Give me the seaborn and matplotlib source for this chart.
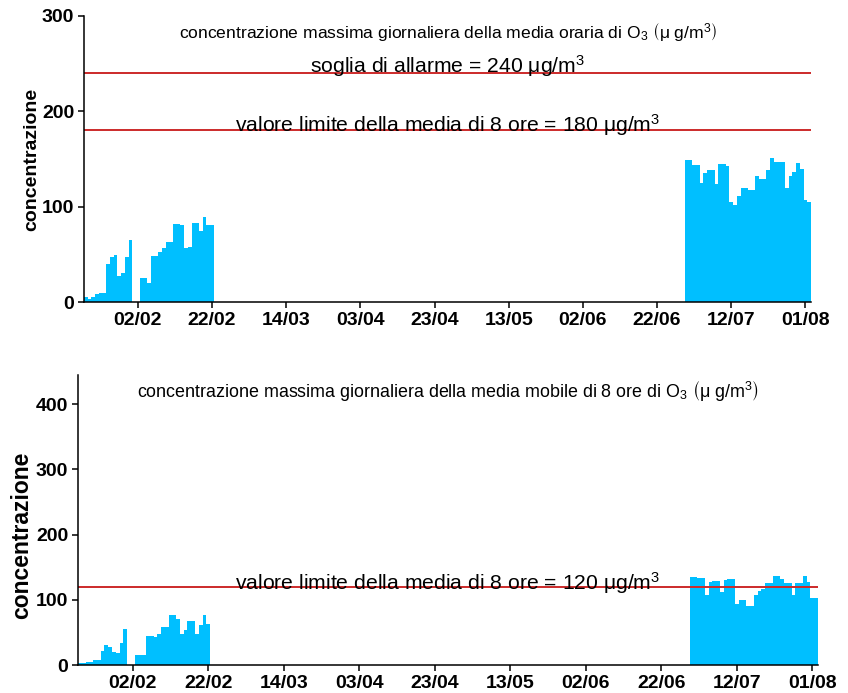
import numpy as np
import pandas as pd
import matplotlib
matplotlib.use("Agg")
import matplotlib.pyplot as plt
import seaborn as sns

# Daily ozone values (µg/m³); NaN marks days without data
days_winter = pd.date_range("2023-01-19", "2023-02-22")
days_summer = pd.date_range("2023-06-30", "2023-08-02")

max_hourly_winter = [5, 3, 5, 8, 9, 9, 40, 47, 49, 27, 30, 47, 65, np.nan, np.nan,
                     25, 25, 20, 48, 48, 52, 57, 63, 63, 82, 82, 81, 57, 58, 83,
                     83, 74, 89, 81, 81]
max_hourly_summer = [149, 149, 144, 144, 125, 135, 138, 138, 124, 145, 145, 143,
                     105, 102, 111, 120, 120, 118, 118, 132, 129, 129, 138, 151,
                     147, 147, 147, 120, 132, 136, 146, 139, 107, 105]

max_8h_winter = [3, 3, 4, 4, 7, 8, 22, 31, 28, 20, 19, 34, 56, np.nan, np.nan,
                 16, 16, 16, 44, 44, 43, 48, 59, 59, 76, 76, 71, 48, 53, 68,
                 68, 47, 62, 76, 63]
max_8h_summer = [135, 135, 134, 134, 108, 127, 129, 129, 112, 131, 132, 132,
                 94, 100, 99, 91, 91, 108, 114, 116, 126, 126, 137, 137,
                 132, 126, 126, 108, 126, 126, 136, 127, 103, 103]

tick_labels = ["02/02", "22/02", "14/03", "03/04", "23/04",
               "13/05", "02/06", "22/06", "12/07", "01/08"]

alarm_threshold = 240
limit_hourly = 180
limit_8h = 120

sns.set_theme(style="ticks")
plt.rcParams["font.family"] = ["Liberation Sans", "DejaVu Sans"]
plt.rcParams["mathtext.fontset"] = "stix"
for key in ("text.color", "axes.labelcolor", "xtick.color", "ytick.color",
            "axes.edgecolor"):
    plt.rcParams[key] = "black"

days = days_winter.append(days_summer)
df = pd.DataFrame({
    "doy": days.dayofyear,
    "hourly": max_hourly_winter + max_hourly_summer,
    "mov8": max_8h_winter + max_8h_summer,
})
tick_pos = [pd.Timestamp(f"2023-{t[3:]}-{t[:2]}").dayofyear for t in tick_labels]

BAR = "#00BFFF"
RED = "#CC2A2A"

fig = plt.figure(figsize=(8.48, 6.93), dpi=100)
ax1 = fig.add_axes([84 / 848, 1 - 302 / 693, (811 - 84) / 848, (302 - 16) / 693])
ax2 = fig.add_axes([78 / 848, 1 - 665 / 693, (818 - 78) / 848, (665 - 375) / 693])

for ax, col in ((ax1, "hourly"), (ax2, "mov8")):
    sns.barplot(data=df.dropna(subset=[col]), x="doy", y=col, native_scale=True,
                width=1, color=BAR, saturation=1, errorbar=None, linewidth=0,
                ax=ax)
    ax.set_xlim(18.5, 214.5)
    ax.set_xticks(tick_pos)
    ax.set_xticklabels(tick_labels)
    ax.set_xlabel("")
    for sp in ("top", "right"):
        ax.spines[sp].set_visible(False)
    for sp in ("left", "bottom"):
        ax.spines[sp].set_linewidth(1.1)
        ax.spines[sp].set_color("black")
    ax.tick_params(axis="both", length=4, width=1.1, color="black", pad=3,
                   labelsize=14, labelcolor="black")
    for lab in ax.get_xticklabels() + ax.get_yticklabels():
        lab.set_fontweight("bold")

ax1.set_ylabel("concentrazione", fontsize=14, fontweight="bold")
ax2.set_ylabel("concentrazione", fontsize=16.5, fontweight="bold")

ax1.set_ylim(0, 300)
ax1.set_yticks([0, 100, 200, 300])
ax1.yaxis.set_label_coords(-0.060, 0.5)
ax2.set_ylim(0, 445)
ax2.set_yticks([0, 100, 200, 300, 400])
ax2.yaxis.set_label_coords(-0.061, 0.448)

ax1.axhline(alarm_threshold, color=RED, lw=1.4)
ax1.axhline(limit_hourly, color=RED, lw=1.4)
ax2.axhline(limit_8h, color=RED, lw=1.4)

unit_title = r"$\left(\mathregular{μ\ g/m^3}\right)$"
ax1.text(0.5, 0.94,
         r"concentrazione massima giornaliera della media oraria di O$_\mathregular{3}$ " + unit_title,
         transform=ax1.transAxes, ha="center", va="center", fontsize=12.6)
ax2.text(0.5, 0.948,
         r"concentrazione massima giornaliera della media mobile di 8 ore di O$_\mathregular{3}$ " + unit_title,
         transform=ax2.transAxes, ha="center", va="center", fontsize=12.9)

unit = r"μg/m$^\mathregular{3}$"
yt1 = ax1.get_yaxis_transform()
ax1.text(0.5, alarm_threshold + 0.5,
         "soglia di allarme = %d %s" % (alarm_threshold, unit),
         transform=yt1, ha="center", va="baseline", fontsize=15.2)
ax1.text(0.5, limit_hourly - 1.5,
         "valore limite della media di 8 ore = %d %s" % (limit_hourly, unit),
         transform=yt1, ha="center", va="baseline", fontsize=15.2)
ax2.text(0.5, limit_8h - 5,
         "valore limite della media di 8 ore = %d %s" % (limit_8h, unit),
         transform=ax2.get_yaxis_transform(), ha="center", va="baseline",
         fontsize=15.2)

fig.savefig("out.png", dpi=100)
